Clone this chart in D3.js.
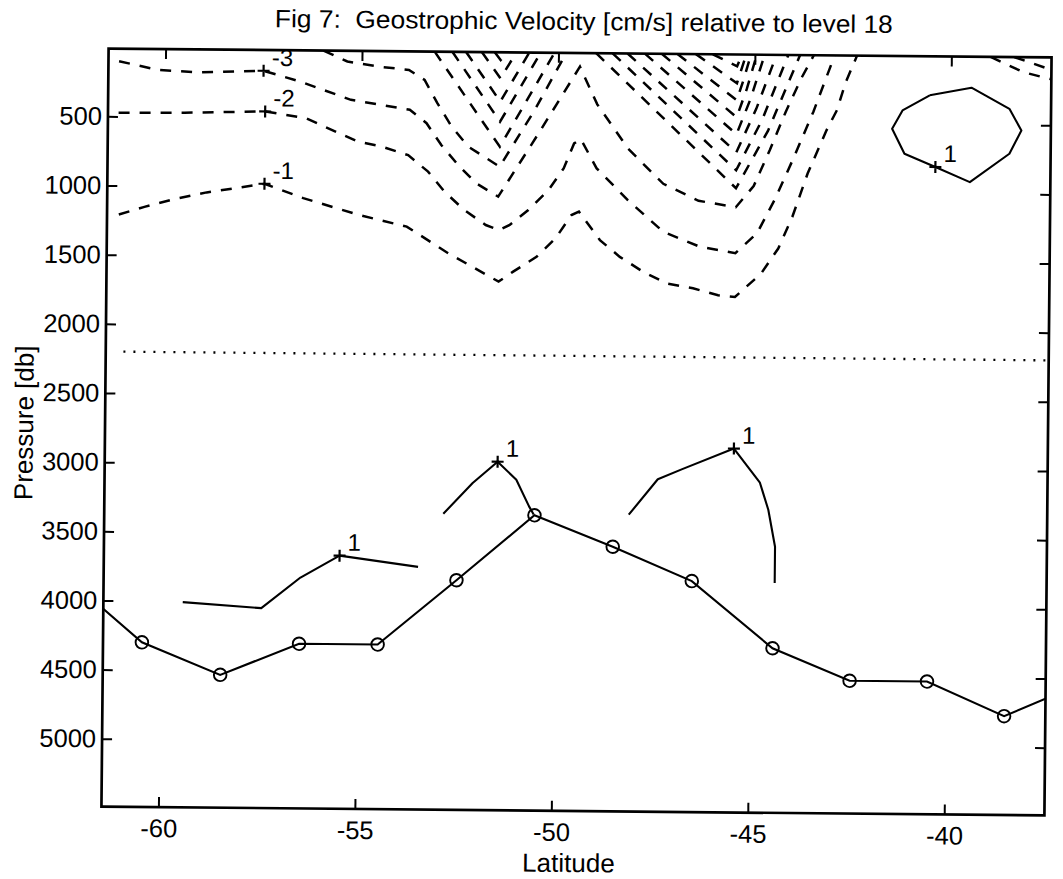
<!DOCTYPE html>
<html><head><meta charset="utf-8">
<script src="https://cdn.jsdelivr.net/npm/d3@7"></script>
<style>
body{margin:0;background:#fff}
text{font-family:"Liberation Sans",Arial,Helvetica,sans-serif;fill:#000}
</style>
</head><body>
<svg id="chart" width="1063" height="879"></svg>
<script>
// ---------------- DATA ----------------
const titleText = "Fig 7:  Geostrophic Velocity [cm/s] relative to level 18";
const xLabel = "Latitude";
const yLabel = "Pressure [db]";
const xTicks = [-60, -55, -50, -45, -40];
const yTicks = [500, 1000, 1500, 2000, 2500, 3000, 3500, 4000, 4500, 5000];
const latDomain = [-61.45, -37.45];
const presDomain = [10, 5490];

// bottom topography at stations (circles)
const stationLat   = [-62.45, -60.46, -58.46, -56.46, -54.46, -52.47, -50.5, -48.5, -46.48, -44.41, -42.44, -40.47, -38.5, -36.5];
const bottomDepth  = [3820, 4300, 4530, 4300, 4300, 3830, 3355, 3577, 3820, 4300, 4530, 4530, 4775, 4530];

// reference level (dotted)
const refLevelLat = [-61.0, -37.45];
const refLevelP = [2200, 2200];

// negative (dashed) contours  [lat, pressure]
const negOne = [[-61.15,1209],[-60.5,1152],[-59.8,1098],[-58.92,1043],[-57.45,977],[-56.46,1078],[-55.05,1195],[-53.82,1277],[-52.76,1466],[-51.47,1668],[-51.1,1595],[-50.51,1486],[-50.03,1351],[-49.63,1182],[-49.44,1157],[-48.9,1361],[-48.39,1481],[-47.79,1588],[-47.19,1670],[-46.52,1703],[-45.88,1752],[-45.45,1763],[-44.79,1592],[-44.36,1410],[-44.01,1181],[-43.63,866],[-43.16,552],[-42.9,406],[-42.68,202],[-42.4,10]];
const negTwo = [[-61.18,474],[-59.5,468],[-57.45,454],[-56.42,499],[-55.09,665],[-54.48,700],[-53.8,760],[-53.29,878],[-52.87,1021],[-52.36,1153],[-51.81,1260],[-51.47,1295],[-51.2,1258],[-50.73,1149],[-50.22,1003],[-49.84,845],[-49.58,664],[-49.41,632],[-49.0,843],[-48.2,1070],[-47.29,1297],[-46.35,1403],[-45.45,1446],[-44.9,1300],[-44.45,1050],[-44.0,760],[-43.5,420],[-42.97,10]];
const negThree = [[-61.18,101],[-60.2,160],[-59.13,176],[-57.5,160],[-56.57,235],[-55.27,364],[-53.77,432],[-53.34,528],[-52.96,684],[-52.53,827],[-52.06,959],[-51.5,1054],[-50.5,600],[-49.45,109],[-49.0,380],[-48.2,700],[-47.3,950],[-46.4,1070],[-45.45,1114],[-45.0,960],[-44.6,700],[-44.2,420],[-43.8,170],[-43.5,10]];
const negFourA = [[-55.98,10],[-55.37,87],[-54.6,121],[-53.8,144],[-53.4,215],[-53.07,382],[-52.7,551],[-52.27,695],[-51.47,837],[-50.6,430],[-49.8,10]];
const negFiveA = [[-53.15,10],[-51.47,693],[-50.1,10]];
const negSixA = [[-52.7,10],[-51.47,512],[-50.45,10]];
const negSevenA = [[-52.35,10],[-51.47,367],[-50.74,10]];
const negEightA = [[-51.95,10],[-51.47,198],[-51.07,10]];
const negNineA = [[-51.62,10],[-51.47,66],[-51.3,10]];
const negFourB = [[-49.04,10],[-45.45,977],[-44.65,560],[-43.85,10]];
const negFiveB = [[-48.62,10],[-45.45,847],[-44.8,480],[-44.15,10]];
const negSixB = [[-48.24,10],[-45.45,717],[-44.95,400],[-44.45,10]];
const negSevenB = [[-47.8,10],[-45.45,587],[-45.1,330],[-44.75,10]];
const negEightB = [[-47.37,10],[-45.45,464],[-45.2,260],[-44.95,10]];
const negNineB = [[-46.97,10],[-45.45,341],[-45.28,190],[-45.1,10]];
const negTenB = [[-46.5,10],[-45.45,218],[-45.22,10]];
const negElevenB = [[-46.07,10],[-45.45,95],[-45.33,10]];
const negCornerOne = [[-39.0,10],[-38.17,118],[-37.45,168]];
const negCornerTwo = [[-38.4,10],[-37.45,100]];
const dashedContours = [negOne, negTwo, negThree, negFourA, negFiveA, negSixA, negSevenA, negEightA, negNineA,
  negFourB, negFiveB, negSixB, negSevenB, negEightB, negNineB, negTenB, negElevenB, negCornerOne, negCornerTwo];

// positive (solid) contours
const posDeepA = [[-59.43,4007],[-57.43,4045],[-56.44,3821],[-55.45,3660],[-53.45,3736]];
const posDeepB = [[-52.82,3350],[-52.08,3126],[-51.45,2970],[-50.97,3099],[-50.64,3291],[-50.52,3350]];
const posDeepC = [[-48.1,3344],[-47.37,3086],[-46.75,3011],[-45.44,2859],[-44.77,3104],[-44.55,3299],[-44.37,3566],[-44.37,3828]];
const posEddy = [[-40.54,292],[-39.48,234],[-38.51,384],[-38.2,540],[-38.5,709],[-39.5,917],[-40.38,810],[-41.17,716],[-41.49,536],[-41.23,403],[-40.54,292]];
const solidContours = [posDeepA, posDeepB, posDeepC, posEddy];

// contour labels
const labelLat  = [-57.45, -57.45, -57.5, -55.45, -51.45, -45.44, -40.38];
const labelP    = [977, 454, 160, 3660, 2970, 2859, 810];
const labelText = ["-1", "-2", "-3", "1", "1", "1", "1"];

// ---------------- DRAW ----------------
const W = 1063, H = 879;
const L = 105, R = 1048, T = 53, B = 811;
const svg = d3.select("#chart");
svg.append("rect").attr("width", W).attr("height", H).attr("fill", "#fff");
const root = svg.append("g").attr("transform", "rotate(0.54 576.5 432)");

const x = d3.scaleLinear().domain(latDomain).range([L, R]);
const y = d3.scaleLinear().domain(presDomain).range([T, B]);

root.append("defs").append("clipPath").attr("id", "clip")
  .append("rect").attr("x", L).attr("y", T).attr("width", R - L).attr("height", B - T);

const plot = root.append("g").attr("clip-path", "url(#clip)");
const line = d3.line().x(d => x(d[0])).y(d => y(d[1]));

// dashed contours
plot.selectAll("path.neg").data(dashedContours).join("path")
  .attr("class", "neg").attr("d", line)
  .attr("fill", "none").attr("stroke", "#000").attr("stroke-width", 2.5)
  .attr("stroke-dasharray", "11,10");

// solid contours
plot.selectAll("path.pos").data(solidContours).join("path")
  .attr("class", "pos").attr("d", line)
  .attr("fill", "none").attr("stroke", "#000").attr("stroke-width", 2.1)
  .attr("stroke-linejoin", "round");

// reference level dotted
plot.append("path").datum(refLevelLat.map((d, i) => [d, refLevelP[i]])).attr("d", line)
  .attr("fill", "none").attr("stroke", "#000").attr("stroke-width", 2.3)
  .attr("stroke-dasharray", "2,8");

// bottom line with circles
const bottom = stationLat.map((d, i) => [d, bottomDepth[i]]);
plot.append("path").datum(bottom).attr("d", line)
  .attr("fill", "none").attr("stroke", "#000").attr("stroke-width", 2.1);
plot.selectAll("circle.st").data(bottom).join("circle").attr("class", "st")
  .attr("cx", d => x(d[0])).attr("cy", d => y(d[1])).attr("r", 6.3)
  .attr("fill", "none").attr("stroke", "#000").attr("stroke-width", 1.9);

// contour labels: + markers and text
const labs = labelLat.map((d, i) => ({lat: d, p: labelP[i], t: labelText[i]}));
const plus = plot.selectAll("g.lab").data(labs).join("g").attr("class", "lab")
  .attr("transform", d => `translate(${x(d.lat)},${y(d.p)})`);
plus.append("path").attr("d", "M-6,0H6M0,-6V6").attr("stroke", "#000").attr("stroke-width", 2.2);
plus.append("text").attr("x", 8).attr("y", -5).attr("font-size", 24).text(d => d.t);

// axes
const fmt = d => String(d);
const axB = d3.axisBottom(x).tickValues(xTicks).tickSizeInner(-10).tickSizeOuter(0).tickPadding(12).tickFormat(fmt);
const axT = d3.axisTop(x).tickValues(xTicks).tickSizeInner(-10).tickSizeOuter(0).tickFormat("");
const axL = d3.axisLeft(y).tickValues(yTicks).tickSizeInner(-10).tickSizeOuter(0).tickPadding(6).tickFormat(fmt);
const axR = d3.axisRight(y).tickValues(yTicks).tickSizeInner(-10).tickSizeOuter(0).tickFormat("");

function styleAxis(g) {
  g.select(".domain").remove();
  g.selectAll(".tick line").attr("stroke", "#000").attr("stroke-width", 2);
  g.selectAll(".tick text").attr("font-size", 25.5).attr("fill", "#000")
    .attr("font-family", '"Liberation Sans", Arial, sans-serif');
}
root.append("g").attr("transform", `translate(0,${B})`).call(axB).call(styleAxis);
root.append("g").attr("transform", `translate(0,${T})`).call(axT).call(styleAxis);
root.append("g").attr("transform", `translate(${L},0)`).call(axL).call(styleAxis);
root.append("g").attr("transform", `translate(${R},0)`).call(axR).call(styleAxis);

// frame
root.append("rect").attr("x", L).attr("y", T).attr("width", R - L).attr("height", B - T)
  .attr("fill", "none").attr("stroke", "#000").attr("stroke-width", 2.7);

// titles
root.append("text").attr("x", 580).attr("y", 30).attr("text-anchor", "middle")
  .style("white-space", "pre").attr("xml:space", "preserve")
  .attr("font-size", 25).attr("textLength", 618).attr("lengthAdjust", "spacingAndGlyphs").text(titleText);
root.append("text").attr("x", (L + R) / 2 - 4).attr("y", 872).attr("text-anchor", "middle")
  .attr("font-size", 26).text(xLabel);
root.append("text").attr("transform", `translate(33,${(T + B) / 2 - 4}) rotate(-90)`)
  .attr("text-anchor", "middle").attr("font-size", 26).text(yLabel);
</script>
</body></html>
